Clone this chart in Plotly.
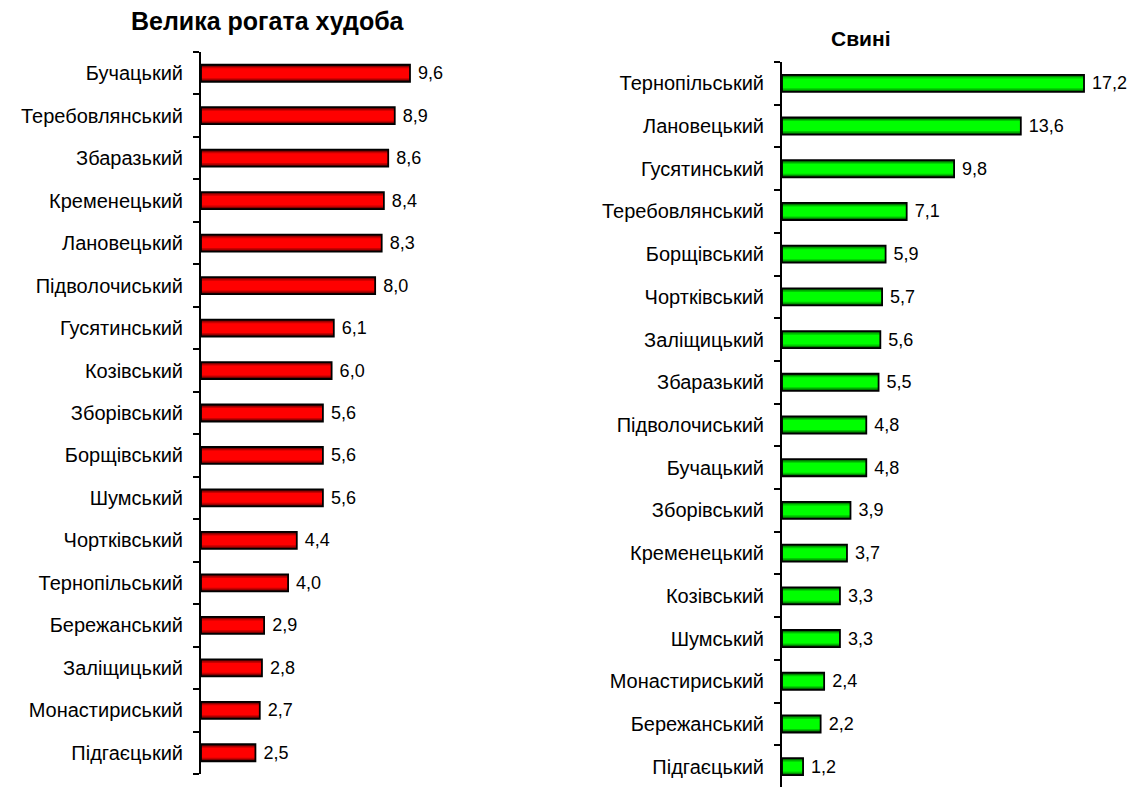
import plotly.graph_objects as go

cattle_districts = ["Бучацький", "Теребовлянський", "Збаразький", "Кременецький", "Лановецький",
                    "Підволочиський", "Гусятинський", "Козівський", "Зборівський", "Борщівський",
                    "Шумський", "Чортківський", "Тернопільський", "Бережанський", "Заліщицький",
                    "Монастириський", "Підгаєцький"]
cattle_values = [9.6, 8.9, 8.6, 8.4, 8.3, 8.0, 6.1, 6.0, 5.6, 5.6, 5.6, 4.4, 4.0, 2.9, 2.8, 2.7, 2.5]

pigs_districts = ["Тернопільський", "Лановецький", "Гусятинський", "Теребовлянський", "Борщівський",
                  "Чортківський", "Заліщицький", "Збаразький", "Підволочиський", "Бучацький",
                  "Зборівський", "Кременецький", "Козівський", "Шумський", "Монастириський",
                  "Бережанський", "Підгаєцький"]
pigs_values = [17.2, 13.6, 9.8, 7.1, 5.9, 5.7, 5.6, 5.5, 4.8, 4.8, 3.9, 3.7, 3.3, 3.3, 2.4, 2.2, 1.2]

titles = ["Велика рогата худоба", "Свині"]

FONT = "Liberation Sans, Arial, sans-serif"
W, H = 1143, 787
OFF = 8  # default page body margin
BAR_W = 0.40
red_layers = [(1.00, "#4a0000"), (0.86, "#8a0000"), (0.74, "#c80000"), (0.58, "#ff0000")]
green_layers = [(1.00, "#004a00"), (0.86, "#008a00"), (0.74, "#00c800"), (0.58, "#00ff00")]

fig = go.Figure()


def add_panel(cats, vals, layers, xa, ya):
    pos = list(range(len(cats)))
    labels = [" " + f"{v:.1f}".replace(".", ",") for v in vals]
    for frac, col in layers:
        fig.add_trace(go.Bar(
            y=pos, x=vals, orientation="h", width=BAR_W * frac,
            marker=dict(color=col, line=dict(width=0)),
            xaxis=xa, yaxis=ya, showlegend=False, hoverinfo="skip"))
    fig.add_trace(go.Bar(
        y=pos, x=vals, orientation="h", width=BAR_W, customdata=cats,
        marker=dict(color="rgba(0,0,0,0)", line=dict(color="black", width=1.8)),
        text=labels, textposition="outside", cliponaxis=False, constraintext="none",
        textfont=dict(family=FONT, size=18, color="black"),
        xaxis=xa, yaxis=ya, showlegend=False, hovertemplate="%{customdata}: %{x}<extra></extra>"))


add_panel(cattle_districts, cattle_values, red_layers, "x", "y")
add_panel(pigs_districts, pigs_values, green_layers, "x2", "y2")


def yaxis_for(cats):
    n = len(cats)
    return dict(
        range=[n - 0.5, -0.5], tickmode="array", tickvals=list(range(n)), ticktext=cats,
        showline=True, linecolor="black", linewidth=2, ticks="",
        tickfont=dict(family=FONT, size=20, color="black"), showgrid=False, zeroline=False,
        ticklabelstandoff=12,
        minor=dict(tickmode="array", tickvals=[i - 0.5 for i in range(n + 1)], ticks="outside",
                   ticklen=6, tickwidth=2, tickcolor="black", showgrid=False))


xaxis_common = dict(visible=False, showgrid=False, zeroline=False)


def px_x(x):
    return (x - OFF) / W


def px_y(y):
    return 1 - (y - OFF) / H


fig.update_layout(
    width=W, height=H, margin=dict(l=0, r=0, t=0, b=0),
    paper_bgcolor="white", plot_bgcolor="white", barmode="overlay",
    font=dict(family=FONT, color="black"),
    xaxis=dict(domain=[px_x(201), px_x(201 + 12 * 21.77)], range=[0, 12], anchor="y", **xaxis_common),
    yaxis=dict(domain=[px_y(774), px_y(52)], anchor="x", **yaxis_for(cattle_districts)),
    xaxis2=dict(domain=[px_x(782), px_x(782 + 20 * 17.56)], range=[0, 20], anchor="y2", **xaxis_common),
    yaxis2=dict(domain=[px_y(788), px_y(62)], anchor="x2", **yaxis_for(pigs_districts)),
    annotations=[
        dict(text=f"<b>{titles[0]}</b>", x=px_x(268), y=px_y(21), xref="paper", yref="paper",
             showarrow=False, font=dict(family=FONT, size=25, color="black"),
             xanchor="center", yanchor="middle"),
        dict(text=f"<b>{titles[1]}</b>", x=px_x(861), y=px_y(38), xref="paper", yref="paper",
             showarrow=False, font=dict(family=FONT, size=21, color="black"),
             xanchor="center", yanchor="middle"),
    ],
)

fig.write_html("out.html")
